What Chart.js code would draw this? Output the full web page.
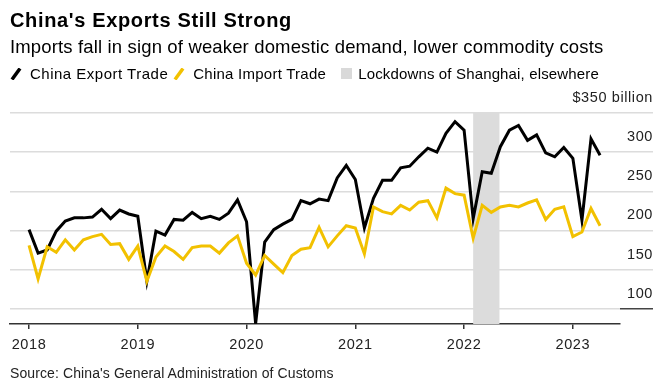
<!DOCTYPE html>
<html>
<head>
<meta charset="utf-8">
<script src="https://cdn.jsdelivr.net/npm/chart.js@4.4.1/dist/chart.umd.min.js"></script>
<style>
  body { margin: 0; background: #fff; font-family: "Liberation Sans", Arial, sans-serif; color: #000; }
  #wrap { position: relative; width: 660px; height: 384px; overflow: hidden; }
  #chart { position: absolute; left: 0; top: 0; }
  .title { position: absolute; left: 10px; top: 10px; font-size: 20px; line-height: 20px; font-weight: bold; letter-spacing: 0.65px; }
  .subtitle { position: absolute; left: 10px; top: 37.5px; font-size: 18.5px; line-height: 18.5px; letter-spacing: 0.15px; }
  .legend { position: absolute; left: 10px; top: 66px; font-size: 15px; line-height: 15px; display: flex; align-items: center; }
  .legend span.item { display: flex; align-items: center; }
  .legend svg { margin-right: 8px; }
  .box { display: inline-block; width: 11px; height: 11px; background: #d9d9d9; margin-right: 6px; }
  .source { position: absolute; left: 10px; top: 366px; font-size: 14px; line-height: 14px; letter-spacing: 0.1px; color: #222; }
</style>
</head>
<body>
<div id="wrap">
  <canvas id="chart" width="660" height="384"></canvas>
  <div class="title">China's Exports Still Strong</div>
  <div class="subtitle">Imports fall in sign of weaker domestic demand, lower commodity costs</div>
  <div class="legend">
    <span class="item" style="letter-spacing:0.5px"><svg width="12" height="12"><line x1="2" y1="11.5" x2="10" y2="0.5" stroke="#000" stroke-width="3.5"/></svg>China Export Trade</span>
    <span class="item" style="margin-left:5px;letter-spacing:0.25px"><svg width="12" height="12"><line x1="2" y1="11.5" x2="10" y2="0.5" stroke="#f2c100" stroke-width="3.5"/></svg>China Import Trade</span>
    <span class="item" style="margin-left:15px;letter-spacing:0.15px"><i class="box"></i>Lockdowns of Shanghai, elsewhere</span>
  </div>
  <div class="source">Source: China's General Administration of Customs</div>
</div>
<script>
// monthly values, $ billion, Jan 2018 .. Apr 2023
const startYear = 2018;
const exportValues = [
  201, 171, 175, 199, 212, 216, 216, 217, 227, 215, 226, 221,
  218, 135, 199, 194, 214, 213, 223, 215, 218, 214, 222, 239,
  211, 81, 185, 201, 208, 214, 238, 234, 240, 238, 267, 283,
  265, 203, 241, 264, 264, 280, 282, 294, 305, 300, 324, 339,
  328, 215, 275, 273, 307, 328, 334, 315, 322, 299, 294, 306,
  292, 213, 317, 296
];
const importValues = [
  181, 138, 179, 172, 188, 175, 188, 192, 195, 182, 183, 163,
  180, 135, 166, 180, 173, 163, 178, 180, 180, 171, 184, 193,
  158, 143, 168, 157, 146, 168, 176, 178, 204, 179, 193, 206,
  203, 170, 230, 224, 221, 232, 226, 236, 238, 216, 254, 247,
  245, 190, 232, 223, 230, 232, 230, 235, 239, 214, 227, 230,
  192, 198, 228, 206
];
const yearTicks = [0, 12, 24, 36, 48, 60];           // month index of each January
const valueTicks = [100, 150, 200, 250, 300, 350];
const lockdownStart = 49, lockdownEnd = 51.9;        // month index

const toPoints = arr => arr.map((v, i) => ({ x: i, y: v }));

const lockdownShade = {
  id: 'lockdownShade',
  beforeDraw(chart) {
    chart.ctx.letterSpacing = '0.6px';
  },
  beforeDatasetsDraw(chart) {
    const { ctx, chartArea, scales } = chart;
    const x1 = scales.x.getPixelForValue(lockdownStart);
    const x2 = scales.x.getPixelForValue(lockdownEnd);
    ctx.save();
    ctx.fillStyle = '#dcdcdc';
    ctx.fillRect(x1, chartArea.top, x2 - x1, chartArea.bottom - chartArea.top);
    ctx.restore();
  }
};

new Chart(document.getElementById('chart'), {
  type: 'line',
  data: {
    datasets: [
      { label: 'China Import Trade', data: toPoints(importValues), borderColor: '#f2c100', borderWidth: 3, pointRadius: 0, order: 0 },
      { label: 'China Export Trade', data: toPoints(exportValues), borderColor: '#000', borderWidth: 3, pointRadius: 0, order: 1 }
    ]
  },
  options: {
    responsive: false,
    animation: false,
    events: [],
    layout: { padding: { left: 10, right: 7, top: 113, bottom: 20 } },
    plugins: { legend: { display: false }, tooltip: { enabled: false } },
    scales: {
      x: {
        type: 'linear',
        min: -2.1,
        max: 65.2,
        afterBuildTicks: s => { s.ticks = yearTicks.map(v => ({ value: v })); },
        afterFit: s => { s.height = 40; },
        border: { display: true, color: '#333', width: 1.5 },
        grid: { drawOnChartArea: false, drawTicks: true, tickLength: 5, color: '#333', lineWidth: 1.5 },
        ticks: {
          autoSkip: false, maxRotation: 0, padding: 7,
          color: '#222', font: { family: 'Liberation Sans', size: 14.5 },
          callback: v => String(startYear + v / 12)
        }
      },
      y: {
        position: 'right',
        min: 80.4,
        max: 350,
        afterBuildTicks: s => { s.ticks = valueTicks.map(v => ({ value: v })); },
        afterFit: s => { s.width = 33; },
        border: { display: false },
        grid: {
          color: '#dcdcdc', lineWidth: 1.5, tickLength: 33,
          tickColor: c => (c.tick && c.tick.value === 100) ? '#444' : '#dcdcdc'
        },
        ticks: {
          mirror: true, crossAlign: 'near', labelOffset: -15, padding: 33,
          color: '#222', font: { family: 'Liberation Sans', size: 14.5 },
          callback: v => v === 350 ? '$350 billion' : String(v)
        }
      }
    }
  },
  plugins: [lockdownShade]
});
</script>
</body>
</html>
